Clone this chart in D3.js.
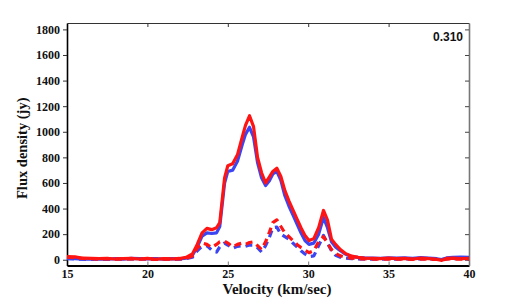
<!DOCTYPE html>
<html>
<head>
<meta charset="utf-8">
<script src="https://cdn.jsdelivr.net/npm/d3@7"></script>
<style>
    body { margin: 0; background: #fff; }
    #chart { width: 518px; height: 300px; }
</style>
</head>
<body>
<div id="chart"></div>
<script>
// velocity channels (km/sec)
const velocity = [15, 15.5, 16, 16.5, 17, 17.5, 18, 18.5, 19, 19.5, 20, 20.5, 21, 21.5, 22, 22.4, 22.8, 23.1, 23.4, 23.7,
    24.0, 24.3, 24.5, 24.8, 25.0, 25.3, 25.6, 25.9, 26.1, 26.35, 26.6, 26.85, 27.1, 27.35, 27.6, 27.8, 28.05, 28.3, 28.55, 28.8,
    29.05, 29.3, 29.55, 29.8, 30.05, 30.35, 30.65, 30.95, 31.2, 31.45, 31.7, 32.0, 32.3, 32.7, 33.1, 33.5, 34, 34.5, 35, 35.5,
    36, 36.5, 37, 37.5, 38, 38.3, 38.6, 39, 39.5, 40];

// flux density (jy)
const redSolid = [25, 22, 12, 10, 8, 10, 6, 8, 10, 6, 10, 4, 8, 6, 10, 18, 45, 120, 210, 245,
    235, 250, 290, 640, 735, 750, 820, 960, 1050, 1125, 1040, 800, 680, 600, 650, 690, 715, 650, 540, 460,
    390, 320, 250, 190, 150, 165, 250, 385, 310, 160, 120, 80, 50, 28, 18, 12, 10, 8, 12, 8,
    10, 6, 12, 8, 4, -5, 10, 12, 8, 10];

const blueSolid = [10, 8, 5, 4, 6, 4, 8, 5, 10, 8, 6, 8, 5, 8, 6, 12, 35, 100, 185, 210,
    205, 210, 260, 600, 690, 700, 770, 900, 980, 1035, 960, 760, 640, 580, 620, 670, 690, 620, 500, 420,
    350, 280, 210, 150, 120, 130, 200, 330, 250, 140, 100, 70, 45, 25, 18, 14, 12, 10, 14, 12,
    14, 10, 16, 12, 8, 2, 14, 18, 20, 18];

const redDashed = [20, 15, 10, 8, 5, 8, 4, 6, 8, 4, 6, 2, 5, 4, 6, 10, 30, 90, 130, 120,
    95, 120, 140, 145, 130, 100, 120, 130, 120, 135, 140, 110, 80, 140, 220, 290, 312, 260, 210, 180,
    150, 120, 95, 75, 55, 70, 140, 180, 130, 80, 50, 30, 20, 12, 8, 6, 5, 4, 6, 4,
    5, 3, 6, 4, 2, -3, 5, 6, 4, 5];

const blueDashed = [8, 6, 4, 3, 5, 3, 6, 4, 8, 6, 5, 6, 4, 6, 5, 8, 20, 70, 105, 110,
    75, 60, 100, 130, 115, 90, 105, 110, 105, 115, 115, 95, 60, 110, 180, 250, 255, 200, 180, 160,
    130, 100, 70, 45, 25, 30, 110, 190, 130, 70, 35, 20, 12, 8, 6, 5, 4, 4, 6, 5,
    6, 4, 8, 6, 4, 0, 7, 9, 10, 9];

const xTicks = [15, 20, 25, 30, 35, 40];
const yTicks = [0, 200, 400, 600, 800, 1000, 1200, 1400, 1600, 1800];
const redshift = "0.310";

const SERIF = "'Liberation Serif', 'Times New Roman', serif";

class FluxSpectrum {
    constructor(parentElement) {
        this.parentElement = parentElement;
        this.initVis();
    }

    initVis() {
        let vis = this;

        vis.margin = {top: 23, right: 49, bottom: 34.5, left: 67};
        vis.width = 518 - vis.margin.left - vis.margin.right;
        vis.height = 300 - vis.margin.top - vis.margin.bottom;

        vis.svg = d3.select("#" + vis.parentElement).append("svg")
            .attr("width", 518)
            .attr("height", 300)
            .append("g")
            .attr("transform", "translate(" + vis.margin.left + "," + vis.margin.top + ")");

        vis.xScale = d3.scaleLinear().domain([15, 40]).range([0, vis.width]);
        vis.yScale = d3.scaleLinear().domain([-45, 1850]).range([vis.height, 0]);

        vis.line = d3.line()
            .x(d => vis.xScale(d.v))
            .y(d => vis.yScale(d.f));

        vis.series = [
            {values: blueSolid, color: "#3b45f2", dash: null},
            {values: blueDashed, color: "#3b45f2", dash: "7,5"},
            {values: redSolid, color: "#ff1414", dash: null},
            {values: redDashed, color: "#ff1414", dash: "7,5"}
        ];

        vis.drawAxes();
        vis.drawLines();
    }

    drawAxes() {
        let vis = this;

        // bottom axis, ticks pointing in
        vis.svg.append("g")
            .attr("transform", `translate(0,${vis.height})`)
            .call(d3.axisBottom(vis.xScale).tickValues(xTicks).tickFormat(d3.format("d"))
                .tickSizeInner(-4).tickSizeOuter(0).tickPadding(4))
            .attr("font-family", SERIF)
            .attr("font-size", 12)
            .attr("font-weight", "bold")
            .call(g => g.select(".domain").attr("stroke", "#000").attr("stroke-width", 2))
            .call(g => g.selectAll(".tick line").attr("stroke", "#777"))
            .call(g => g.selectAll(".tick text").attr("fill", "#111"));

        // top axis, no labels
        vis.svg.append("g")
            .call(d3.axisTop(vis.xScale).tickValues(xTicks.slice(1, -1)).tickSizeInner(-4).tickSizeOuter(0).tickFormat(""))
            .call(g => g.select(".domain").attr("stroke", "#333").attr("stroke-width", 1.2))
            .call(g => g.selectAll(".tick line").attr("stroke", "#333"));

        // left axis, ticks pointing out
        vis.svg.append("g")
            .call(d3.axisLeft(vis.yScale).tickValues(yTicks).tickFormat(d3.format("d"))
                .tickSize(4).tickSizeOuter(0).tickPadding(3))
            .attr("font-family", SERIF)
            .attr("font-size", 12)
            .attr("font-weight", "bold")
            .call(g => g.select(".domain").attr("stroke", "#000").attr("stroke-width", 1.6))
            .call(g => g.selectAll(".tick line").attr("stroke", "#333"))
            .call(g => g.selectAll(".tick text").attr("fill", "#111"));

        // right axis, ticks pointing in
        vis.svg.append("g")
            .attr("transform", `translate(${vis.width},0)`)
            .call(d3.axisRight(vis.yScale).tickValues(yTicks).tickSizeInner(-4).tickSizeOuter(0).tickFormat(""))
            .call(g => g.select(".domain").attr("stroke", "#777").attr("stroke-width", 1.6))
            .call(g => g.selectAll(".tick line").attr("stroke", "#444"));

        vis.svg.append("text")
            .attr("font-family", SERIF)
            .attr("font-weight", "bold")
            .attr("font-size", 15)
            .attr("fill", "#111")
            .attr("text-anchor", "middle")
            .attr("x", vis.width / 2 + 9)
            .attr("y", vis.height + 28)
            .text("Velocity (km/sec)");

        vis.svg.append("text")
            .attr("font-family", SERIF)
            .attr("font-weight", "bold")
            .attr("font-size", 14.5)
            .attr("fill", "#111")
            .attr("text-anchor", "middle")
            .attr("transform", `translate(-40,${vis.height / 2 + 4}) rotate(-90)`)
            .text("Flux density (jy)");

        vis.svg.append("text")
            .attr("x", vis.width - 6)
            .attr("y", 18)
            .attr("text-anchor", "end")
            .attr("font-family", "'Liberation Sans', Arial, sans-serif")
            .attr("font-weight", "bold")
            .attr("font-size", 12)
            .attr("fill", "#111")
            .text(redshift);
    }

    drawLines() {
        let vis = this;

        vis.series.forEach(s => {
            let pts = velocity.map((v, i) => ({v: v, f: s.values[i]}));
            vis.svg.append("path")
                .datum(pts)
                .attr("fill", "none")
                .attr("stroke", s.color)
                .attr("stroke-width", 3.2)
                .attr("stroke-linejoin", "round")
                .attr("stroke-dasharray", s.dash)
                .attr("d", vis.line);
        });
    }
}

new FluxSpectrum("chart");
</script>
</body>
</html>
